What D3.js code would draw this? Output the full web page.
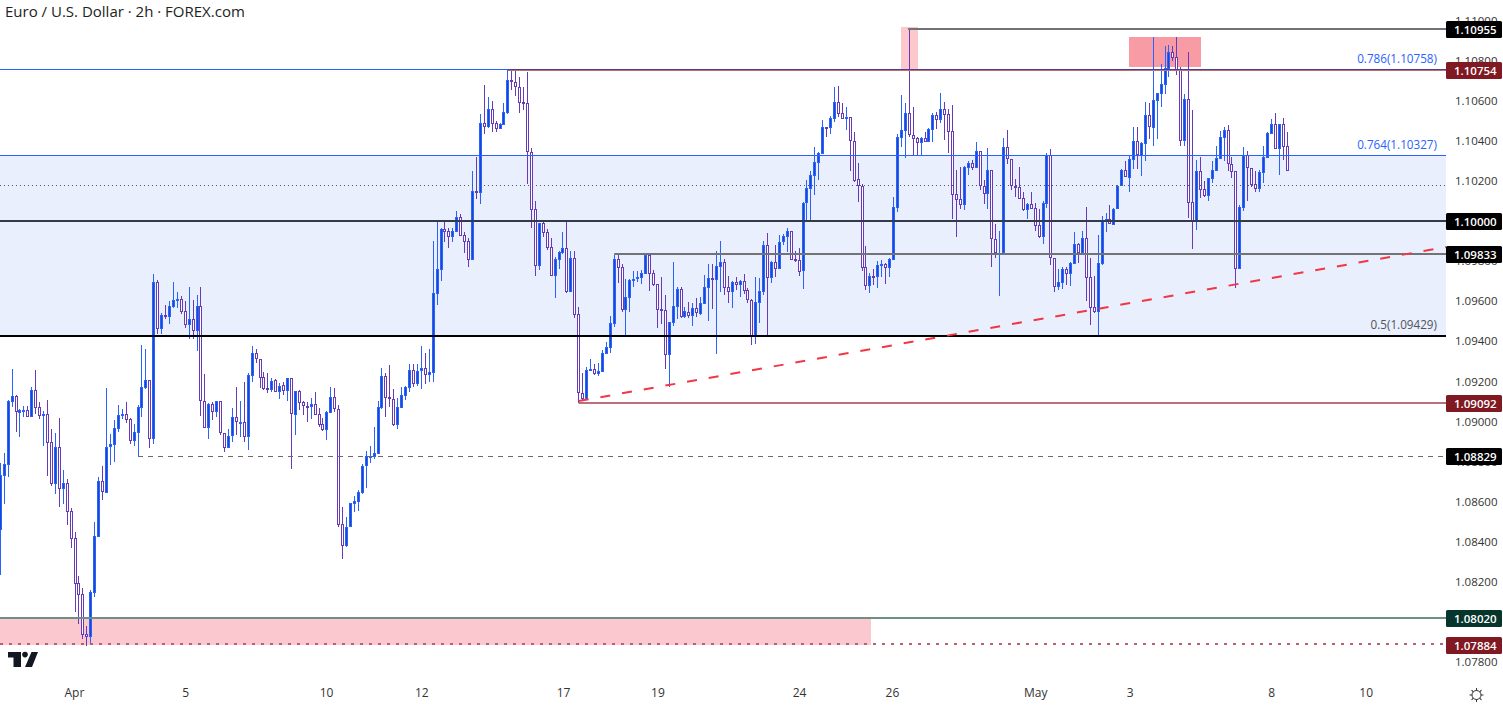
<!DOCTYPE html>
<html>
<head>
<meta charset="utf-8">
<title>EUR/USD</title>
<script src="https://cdn.jsdelivr.net/npm/d3@7"></script>
<style>
  html, body { margin: 0; padding: 0; background: #fff; overflow: hidden; }
  text { font-family: "Open Sans", "Noto Sans", sans-serif; }
</style>
</head>
<body>
<div id="chart"></div>
<script>
const opens = [
  1.08459,1.08728,1.08783,1.09097,1.09127,1.09042,1.09052,1.09057,
  1.09022,1.09157,1.09072,1.09027,1.09037,1.08898,1.08688,1.08873,
  1.08663,1.08693,1.08554,1.08419,1.08195,1.08140,1.07940,1.07925,
  1.08145,1.08424,1.08703,1.08643,1.08873,1.08883,1.08963,1.09027,
  1.09037,1.09012,1.08903,1.08943,1.09067,1.09167,1.09207,1.08913,
  1.09696,1.09461,1.09531,1.09521,1.09571,1.09601,1.09611,1.09551,
  1.09481,1.09511,1.09451,1.09576,1.09102,1.08968,1.09087,1.09047,
  1.09102,1.08943,1.08868,1.08928,1.09022,1.08993,1.08998,1.08923,
  1.09227,1.09342,1.09312,1.09222,1.09165,1.09157,1.09207,1.09147,
  1.09182,1.09152,1.09217,1.09032,1.09152,1.09097,1.09077,1.09072,
  1.09087,1.09037,1.08988,1.08958,1.09042,1.09122,1.09062,1.08489,
  1.08379,1.08474,1.08589,1.08599,1.08643,1.08778,1.08826,1.08823,
  1.08838,1.09067,1.09227,1.09122,1.09112,1.08983,1.09067,1.09127,
  1.09167,1.09257,1.09187,1.09252,1.09267,1.09232,1.09242,1.09636,
  1.09756,1.09960,1.09950,1.09920,1.09945,1.10020,1.09930,1.09900,
  1.09805,1.10150,1.10140,1.10489,1.10469,1.10559,1.10489,1.10459,
  1.10479,1.10539,1.10703,1.10693,1.10668,1.10593,1.10589,1.10344,
  1.10060,1.09776,1.09990,1.09945,1.09870,1.09726,1.09805,1.09840,
  1.09865,1.09646,1.09815,1.09536,1.09142,1.09112,1.09252,1.09262,
  1.09237,1.09247,1.09337,1.09367,1.09486,1.09810,1.09771,1.09556,
  1.09616,1.09706,1.09711,1.09716,1.09736,1.09830,1.09741,1.09686,
  1.09561,1.09556,1.09332,1.09491,1.09571,1.09661,1.09521,1.09546,
  1.09526,1.09566,1.09536,1.09586,1.09666,1.09716,1.09706,1.09771,
  1.09796,1.09671,1.09646,1.09696,1.09681,1.09701,1.09656,1.09606,
  1.09421,1.09591,1.09646,1.09880,1.09716,1.09796,1.09761,1.09895,
  1.09920,1.09950,1.09810,1.09806,1.09751,1.10090,1.10160,1.10224,
  1.10289,1.10334,1.10469,1.10464,1.10509,1.10594,1.10539,1.10509,
  1.10519,1.10399,1.10209,1.10175,1.09771,1.09676,1.09726,1.09721,
  1.09776,1.09786,1.09766,1.09805,1.10065,1.10414,1.10449,1.10539,
  1.10429,1.10414,1.10389,1.10414,1.10394,1.10454,1.10529,1.10504,
  1.10559,1.10534,1.10449,1.10135,1.10110,1.10080,1.10264,1.10289,
  1.10264,1.10349,1.10175,1.10135,1.10254,1.09910,1.09838,1.09840,
  1.10369,1.10309,1.10175,1.10170,1.10115,1.10055,1.10085,1.10065,
  1.09980,1.09920,1.10085,1.10329,1.09815,1.09671,1.09691,1.09761,
  1.09736,1.09786,1.09885,1.09840,1.09915,1.09721,1.09571,1.09546,
  1.09786,1.10000,1.10010,1.09980,1.10060,1.10175,1.10254,1.10214,
  1.10304,1.10399,1.10324,1.10384,1.10529,1.10464,1.10599,1.10633,
  1.10678,1.10758,1.10843,1.10818,1.10753,1.10399,1.10608,1.10095,
  1.10000,1.10249,1.10160,1.10125,1.10209,1.10249,1.10309,1.10414,
  1.10454,1.10284,1.10249,1.09761,1.10065,1.10329,1.10264,1.10185,
  1.10160,1.10239,1.10314,1.10434,1.10484,1.10359,1.10484,1.10374
];
const highs = [
  1.08793,1.08843,1.09107,1.09262,1.09132,1.09062,1.09077,1.09077,
  1.09172,1.09257,1.09097,1.09052,1.09107,1.08963,1.08943,1.09017,
  1.08758,1.08713,1.08569,1.08449,1.08229,1.08170,1.07980,1.08160,
  1.08499,1.08723,1.08778,1.09167,1.08938,1.09007,1.09082,1.09062,
  1.09097,1.09017,1.08988,1.09082,1.09382,1.09362,1.09207,1.09736,
  1.09706,1.09541,1.09581,1.09601,1.09696,1.09646,1.09626,1.09601,
  1.09671,1.09606,1.09631,1.09671,1.09237,1.09092,1.09097,1.09102,
  1.09102,1.08943,1.08963,1.09067,1.09172,1.09102,1.09197,1.09242,
  1.09377,1.09362,1.09312,1.09247,1.09242,1.09217,1.09212,1.09192,
  1.09197,1.09217,1.09217,1.09152,1.09157,1.09102,1.09097,1.09117,
  1.09147,1.09067,1.09017,1.09052,1.09172,1.09167,1.09082,1.08574,
  1.08524,1.08594,1.08628,1.08658,1.08788,1.08853,1.08878,1.08973,
  1.09102,1.09267,1.09242,1.09282,1.09162,1.09117,1.09172,1.09177,
  1.09287,1.09287,1.09287,1.09377,1.09342,1.09362,1.09900,1.10000,
  1.09965,1.10005,1.09965,1.09965,1.10050,1.10035,1.09945,1.09915,
  1.10249,1.10319,1.10534,1.10678,1.10618,1.10599,1.10499,1.10489,
  1.10589,1.10758,1.10753,1.10753,1.10718,1.10668,1.10743,1.10364,
  1.10100,1.09990,1.09995,1.09960,1.09915,1.09820,1.09850,1.09945,
  1.10000,1.09850,1.09850,1.09571,1.09242,1.09272,1.09312,1.09287,
  1.09292,1.09357,1.09397,1.09526,1.09830,1.09835,1.09786,1.09711,
  1.09711,1.09751,1.09751,1.09756,1.09835,1.09835,1.09756,1.09686,
  1.09721,1.09631,1.09496,1.09796,1.09671,1.09671,1.09571,1.09596,
  1.09591,1.09616,1.09621,1.09731,1.09786,1.09786,1.09850,1.09900,
  1.09810,1.09726,1.09701,1.09721,1.09706,1.09736,1.09666,1.09611,
  1.09721,1.09716,1.09900,1.09940,1.09801,1.09880,1.09930,1.09935,
  1.09965,1.09950,1.09850,1.09865,1.10095,1.10205,1.10249,1.10369,
  1.10344,1.10504,1.10469,1.10524,1.10668,1.10673,1.10589,1.10569,
  1.10519,1.10444,1.10289,1.10185,1.09875,1.09741,1.09761,1.09801,
  1.09806,1.09791,1.09815,1.10120,1.10434,1.10628,1.10589,1.10958,
  1.10569,1.10419,1.10419,1.10444,1.10464,1.10539,1.10544,1.10638,
  1.10594,1.10559,1.10579,1.10254,1.10269,1.10274,1.10299,1.10304,
  1.10394,1.10349,1.10205,1.10364,1.10254,1.09985,1.09950,1.10414,
  1.10454,1.10309,1.10209,1.10269,1.10145,1.10090,1.10145,1.10090,
  1.10060,1.10100,1.10339,1.10359,1.09815,1.09761,1.09771,1.09771,
  1.09796,1.09945,1.09890,1.09950,1.10070,1.09815,1.09726,1.09930,
  1.10025,1.10040,1.10080,1.10065,1.10180,1.10259,1.10299,1.10329,
  1.10469,1.10469,1.10394,1.10594,1.10589,1.10918,1.10638,1.10783,
  1.10873,1.10878,1.10873,1.10918,1.10768,1.10633,1.10843,1.10554,
  1.10304,1.10319,1.10200,1.10214,1.10299,1.10374,1.10449,1.10469,
  1.10479,1.10319,1.10249,1.10080,1.10369,1.10349,1.10264,1.10249,
  1.10254,1.10374,1.10444,1.10509,1.10539,1.10484,1.10514,1.10444
];
const lows = [
  1.08234,1.08589,1.08723,1.09072,1.08948,1.08923,1.09022,1.09022,
  1.09022,1.09037,1.09012,1.08878,1.08728,1.08678,1.08638,1.08574,
  1.08589,1.08484,1.08369,1.08050,1.07990,1.07915,1.07880,1.07895,
  1.08125,1.08424,1.08609,1.08643,1.08783,1.08798,1.08948,1.09012,
  1.08993,1.08888,1.08878,1.08828,1.09022,1.09162,1.08868,1.08888,
  1.09436,1.09436,1.09511,1.09486,1.09566,1.09566,1.09536,1.09466,
  1.09411,1.09411,1.09352,1.09027,1.08968,1.08913,1.09007,1.09022,
  1.08933,1.08848,1.08868,1.08898,1.08933,1.08923,1.08898,1.08858,
  1.09197,1.09292,1.09167,1.09157,1.09142,1.09147,1.09147,1.09112,
  1.09132,1.09102,1.08763,1.08933,1.09057,1.09032,1.08998,1.09012,
  1.09032,1.08973,1.08953,1.08908,1.09042,1.09047,1.08474,1.08314,
  1.08374,1.08474,1.08549,1.08554,1.08638,1.08668,1.08793,1.08813,
  1.08838,1.09062,1.09022,1.09072,1.08978,1.08963,1.09067,1.09107,
  1.09147,1.09172,1.09177,1.09162,1.09187,1.09197,1.09197,1.09581,
  1.09701,1.09895,1.09865,1.09895,1.09945,1.09925,1.09840,1.09771,
  1.09805,1.10110,1.10085,1.10434,1.10464,1.10444,1.10444,1.10459,
  1.10479,1.10534,1.10653,1.10623,1.10539,1.10554,1.10185,1.09965,
  1.09726,1.09756,1.09920,1.09855,1.09726,1.09616,1.09761,1.09835,
  1.09641,1.09646,1.09516,1.09092,1.09107,1.09112,1.09252,1.09232,
  1.09227,1.09247,1.09337,1.09342,1.09471,1.09691,1.09546,1.09431,
  1.09546,1.09671,1.09696,1.09686,1.09736,1.09651,1.09676,1.09466,
  1.09486,1.09262,1.09172,1.09476,1.09511,1.09516,1.09516,1.09516,
  1.09476,1.09521,1.09531,1.09586,1.09501,1.09561,1.09337,1.09646,
  1.09631,1.09591,1.09566,1.09656,1.09621,1.09636,1.09591,1.09382,
  1.09387,1.09491,1.09631,1.09431,1.09691,1.09721,1.09761,1.09880,
  1.09845,1.09805,1.09796,1.09726,1.09661,1.09995,1.09995,1.10130,
  1.10204,1.10334,1.10419,1.10434,1.10494,1.10519,1.10509,1.10454,
  1.10249,1.10195,1.10095,1.09751,1.09656,1.09641,1.09681,1.09666,
  1.09721,1.09686,1.09721,1.09805,1.10045,1.10369,1.10314,1.10419,
  1.10329,1.10329,1.10329,1.10394,1.10394,1.10394,1.10459,1.10489,
  1.10404,1.10339,1.10010,1.09920,1.10060,1.10055,1.10229,1.10254,
  1.10264,1.10155,1.10085,1.10060,1.09771,1.09815,1.09626,1.09840,
  1.10284,1.10155,1.10120,1.10110,1.10050,1.10010,1.10060,1.09950,
  1.09915,1.09885,1.10065,1.09780,1.09646,1.09656,1.09661,1.09681,
  1.09676,1.09786,1.09791,1.09830,1.09601,1.09481,1.09541,1.09421,
  1.09781,1.09945,1.09985,1.09980,1.10060,1.10175,1.10219,1.10145,
  1.10259,1.10259,1.10224,1.10299,1.10409,1.10374,1.10409,1.10569,
  1.10633,1.10718,1.10798,1.10728,1.10374,1.10374,1.10015,1.09860,
  1.09955,1.10115,1.10120,1.10100,1.10190,1.10249,1.10309,1.10299,
  1.10249,1.10214,1.09666,1.09761,1.10050,1.10100,1.10170,1.10145,
  1.10145,1.10190,1.10314,1.10434,1.10359,1.10229,1.10304,1.10249
];
const closes = [
  1.08733,1.08788,1.09102,1.09127,1.09047,1.09057,1.09057,1.09022,
  1.09157,1.09067,1.09027,1.09037,1.08893,1.08688,1.08873,1.08663,
  1.08693,1.08549,1.08414,1.08190,1.08135,1.07935,1.07925,1.08150,
  1.08429,1.08703,1.08648,1.08873,1.08888,1.08968,1.09032,1.09037,
  1.09007,1.08903,1.08948,1.09072,1.09172,1.09207,1.08913,1.09696,
  1.09461,1.09531,1.09521,1.09576,1.09606,1.09611,1.09546,1.09481,
  1.09511,1.09451,1.09576,1.09102,1.08968,1.09087,1.09047,1.09102,
  1.08943,1.08868,1.08928,1.09022,1.08998,1.08998,1.08923,1.09232,
  1.09342,1.09312,1.09217,1.09162,1.09160,1.09202,1.09147,1.09177,
  1.09152,1.09217,1.09037,1.09152,1.09092,1.09077,1.09075,1.09087,
  1.09032,1.08983,1.08958,1.09047,1.09122,1.09062,1.08484,1.08379,
  1.08474,1.08594,1.08604,1.08648,1.08778,1.08828,1.08828,1.08843,
  1.09072,1.09227,1.09117,1.09112,1.08983,1.09072,1.09132,1.09172,
  1.09257,1.09187,1.09252,1.09267,1.09232,1.09247,1.09641,1.09761,
  1.09960,1.09945,1.09920,1.09950,1.10020,1.09925,1.09895,1.09805,
  1.10150,1.10140,1.10489,1.10469,1.10559,1.10484,1.10459,1.10484,
  1.10544,1.10703,1.10693,1.10668,1.10589,1.10589,1.10344,1.10055,
  1.09776,1.09990,1.09940,1.09865,1.09726,1.09810,1.09845,1.09865,
  1.09646,1.09815,1.09531,1.09142,1.09112,1.09257,1.09262,1.09237,
  1.09252,1.09342,1.09372,1.09491,1.09810,1.09766,1.09556,1.09621,
  1.09706,1.09711,1.09721,1.09741,1.09830,1.09736,1.09681,1.09556,
  1.09551,1.09332,1.09496,1.09576,1.09661,1.09521,1.09551,1.09526,
  1.09566,1.09541,1.09591,1.09671,1.09716,1.09706,1.09776,1.09796,
  1.09666,1.09646,1.09696,1.09681,1.09701,1.09651,1.09606,1.09421,
  1.09596,1.09651,1.09880,1.09716,1.09796,1.09761,1.09895,1.09925,
  1.09950,1.09805,1.09801,1.09746,1.10090,1.10165,1.10229,1.10294,
  1.10339,1.10469,1.10464,1.10514,1.10594,1.10534,1.10509,1.10519,
  1.10399,1.10200,1.10175,1.09766,1.09676,1.09726,1.09721,1.09781,
  1.09786,1.09766,1.09810,1.10070,1.10419,1.10454,1.10539,1.10429,
  1.10409,1.10389,1.10414,1.10394,1.10459,1.10529,1.10504,1.10559,
  1.10529,1.10444,1.10130,1.10105,1.10080,1.10269,1.10289,1.10264,
  1.10349,1.10175,1.10135,1.10254,1.09910,1.09840,1.09842,1.10369,
  1.10309,1.10175,1.10170,1.10110,1.10055,1.10085,1.10060,1.09975,
  1.09920,1.10090,1.10329,1.09815,1.09671,1.09696,1.09761,1.09736,
  1.09791,1.09885,1.09840,1.09915,1.09716,1.09566,1.09546,1.09791,
  1.10000,1.10010,1.09985,1.10060,1.10175,1.10254,1.10219,1.10309,
  1.10399,1.10329,1.10389,1.10529,1.10469,1.10604,1.10638,1.10683,
  1.10763,1.10843,1.10813,1.10753,1.10399,1.10608,1.10090,1.10000,
  1.10249,1.10155,1.10125,1.10214,1.10254,1.10314,1.10419,1.10454,
  1.10284,1.10244,1.09761,1.10070,1.10329,1.10264,1.10180,1.10160,
  1.10244,1.10319,1.10439,1.10484,1.10359,1.10484,1.10369,1.10249
];

// y axis labels
const priceTicks = [1.11,1.108,1.106,1.104,1.102,1.1,1.098,1.096,1.094,1.092,1.09,1.088,1.086,1.084,1.082,1.08,1.078];
// x axis labels, positions are bar numbers
const dateTicks = [18.7,47,82.8,107,143,167,203,226.6,263,287,323,347];
const dateLabels = ['Apr','5','10','12','17','19','24','26','May','3','8','10'];

// horizontal levels with a tag on the price axis
const levelPrices = [1.10955,1.10754,1.1,1.09833,1.09092,1.08829,1.0802,1.07884];
const levelStarts = [230.7,129,-1,156,147,35,-1,-1];
const levelKinds = ['gray','red','navy','gray','rose','dash','green','dots'];

// fib levels
const fibPrices = [1.10758,1.10327,1.09429];
const fibRatios = ['0.786','0.764','0.5'];

const dottedLevel = 1.10178;

// rectangles: bars from/to, price from/to
const zoneFrom = [-1,228.9,286.8];
const zoneTo = [221.3,233.2,305.1];
const zoneHigh = [1.08020,1.10968,1.10916];
const zoneLow = [1.07884,1.10754,1.10768];

// trendline from/to
const trendBars = [147,367.4];
const trendPrices = [1.09102,1.09870];

const width = 1503,
      height = 707,
      plotRight = 1446;

const kinds = {
  gray:  { color: '#727377', w: 2 },
  red:   { color: '#b8707a', w: 2, tag: '#801922' },
  navy:  { color: '#343a4a', w: 2 },
  rose:  { color: '#b8707a', w: 2, tag: '#801922' },
  dash:  { color: '#6b6b6b', w: 1, dash: '5 5' },
  green: { color: '#6f8f85', w: 2, tag: '#06352b' },
  dots:  { color: '#b9616f', w: 2, dash: '3 6', tag: '#801922', dy: -1 }
};

const x = d3.scaleLinear().domain([0, 367.4]).range([0.3, plotRight]);
const y = d3.scaleLinear().domain([1.078, 1.11]).range([662, 20.5]);
const snap = v => Math.round(v - 0.1);

const chart = d3.select('#chart')
                .append('svg')
                .attr('width', width)
                .attr('height', height)
                .style('display', 'block');

// fib band
chart.append('rect')
     .attr('x', 0)
     .attr('y', snap(y(fibPrices[1])))
     .attr('width', plotRight)
     .attr('height', snap(y(fibPrices[2])) - snap(y(fibPrices[1])))
     .attr('fill', '#e9effc');

// zones
const zoneColors = ['#fcc8cf', '#fcc8cc', '#f99ba5'];
chart.append('g')
     .selectAll('rect')
     .data(zoneFrom)
     .join('rect')
     .attr('x', (d, i) => Math.max(0, snap(x(d))))
     .attr('y', (d, i) => snap(y(zoneHigh[i])))
     .attr('width', (d, i) => snap(x(zoneTo[i])) - Math.max(0, snap(x(d))))
     .attr('height', (d, i) => snap(y(zoneLow[i])) - snap(y(zoneHigh[i])))
     .attr('fill', (d, i) => zoneColors[i]);

// candles
const candles = chart.append('g')
                     .selectAll('g')
                     .data(opens)
                     .join('g')
                     .attr('class', 'candle');

candles.append('rect')
       .attr('x', (d, i) => Math.floor(x(i)))
       .attr('y', (d, i) => snap(y(highs[i])))
       .attr('width', 1)
       .attr('height', (d, i) => Math.max(1, snap(y(lows[i])) - snap(y(highs[i]))))
       .attr('fill', (d, i) => closes[i] >= d ? '#2962ff' : '#673ab7');

candles.append('rect')
       .attr('x', (d, i) => Math.floor(x(i)) - 0.5)
       .attr('y', (d, i) => snap(y(Math.max(d, closes[i]))) + 0.5)
       .attr('width', 2)
       .attr('height', (d, i) => Math.max(1, snap(y(Math.min(d, closes[i]))) - snap(y(Math.max(d, closes[i]))) - 1))
       .attr('fill', (d, i) => closes[i] >= d ? '#1848cc' : '#ffffff')
       .attr('stroke', (d, i) => closes[i] >= d ? '#2962ff' : '#673ab7')
       .attr('stroke-width', 1);

// dotted level
chart.append('line')
     .attr('x1', 0)
     .attr('x2', plotRight)
     .attr('y1', snap(y(dottedLevel)) + 0.5)
     .attr('y2', snap(y(dottedLevel)) + 0.5)
     .attr('stroke', '#555')
     .attr('stroke-dasharray', '1 3');

// levels
const levelY = (d, i) => {
  const k = kinds[levelKinds[i]];
  return snap(y(d)) + (k.w % 2 ? 0.5 : 0) + (k.dy || 0);
};

chart.append('g')
     .selectAll('line')
     .data(levelPrices)
     .join('line')
     .attr('x1', (d, i) => Math.max(0, x(levelStarts[i])))
     .attr('x2', plotRight)
     .attr('y1', levelY)
     .attr('y2', levelY)
     .attr('stroke', (d, i) => kinds[levelKinds[i]].color)
     .attr('stroke-width', (d, i) => kinds[levelKinds[i]].w)
     .attr('stroke-dasharray', (d, i) => kinds[levelKinds[i]].dash || null);

// fib lines
const fibColors = ['#4a3f8f', '#2962ff', '#000000'];
const fibY = (d, i) => i === 2 ? Math.ceil(y(d)) : snap(y(d)) + 0.5;

chart.append('g')
     .selectAll('line')
     .data(fibPrices)
     .join('line')
     .attr('x1', 0)
     .attr('x2', plotRight)
     .attr('y1', fibY)
     .attr('y2', fibY)
     .attr('stroke', (d, i) => fibColors[i])
     .attr('stroke-width', (d, i) => i === 2 ? 2 : 1);

// blue part of the top fib line
chart.append('line')
     .attr('x1', 0)
     .attr('x2', x(129))
     .attr('y1', fibY(fibPrices[0], 0))
     .attr('y2', fibY(fibPrices[0], 0))
     .attr('stroke', '#2962ff');

chart.append('g')
     .selectAll('text')
     .data(fibPrices)
     .join('text')
     .attr('x', 1437)
     .attr('y', d => snap(y(d)) - 6)
     .attr('text-anchor', 'end')
     .attr('font-size', 11.7)
     .attr('fill', (d, i) => i === 2 ? '#50535e' : '#2962ff')
     .text((d, i) => fibRatios[i] + '(' + d3.format('.5f')(d) + ')');

// trendline
chart.append('line')
     .attr('x1', x(trendBars[0]))
     .attr('y1', y(trendPrices[0]))
     .attr('x2', x(trendBars[1]))
     .attr('y2', y(trendPrices[1]))
     .attr('stroke', '#f23645')
     .attr('stroke-width', 2)
     .attr('stroke-dasharray', '10 12');

// axes
const yAxis = d3.axisRight(y)
                .tickValues(priceTicks)
                .tickSize(0)
                .tickPadding(9)
                .tickFormat(d3.format('.5f'));

const yAxisGroup = chart.append('g')
                        .call(yAxis)
                        .attr('transform', 'translate(' + plotRight + ', 0)');
yAxisGroup.select('.domain').remove();
yAxisGroup.selectAll('text')
          .attr('font-size', 11.5)
          .attr('font-family', '"Open Sans", "Noto Sans", sans-serif')
          .attr('fill', '#333');

const xAxis = d3.axisBottom(x)
                .tickValues(dateTicks)
                .tickSize(0)
                .tickPadding(0)
                .tickFormat((d, i) => dateLabels[i]);

const xAxisGroup = chart.append('g')
                        .call(xAxis)
                        .attr('transform', 'translate(0, 688)');
xAxisGroup.select('.domain').remove();
xAxisGroup.selectAll('text')
          .attr('font-size', 12)
          .attr('font-family', '"Open Sans", "Noto Sans", sans-serif')
          .attr('fill', '#333');

// price tags
const tags = chart.append('g')
                  .selectAll('g')
                  .data(levelPrices)
                  .join('g')
                  .attr('transform', d => 'translate(' + plotRight + ',' + (snap(y(d)) + 0.5) + ')');

tags.append('rect')
    .attr('x', 0)
    .attr('y', -8.5)
    .attr('width', 56)
    .attr('height', 17)
    .attr('rx', 1.5)
    .attr('fill', (d, i) => kinds[levelKinds[i]].tag || '#000');

tags.append('text')
    .attr('x', 8)
    .attr('y', 4.5)
    .attr('font-size', 11.5)
    .attr('font-weight', 600)
    .attr('fill', '#fff')
    .text(d => d3.format('.5f')(d));

// title
chart.append('text')
     .attr('x', 5)
     .attr('y', 17)
     .attr('font-size', 15)
     .attr('fill', '#222')
     .text('Euro / U.S. Dollar · 2h · FOREX.com');

// logo
const logo = chart.append('g').attr('fill', '#131722');
logo.append('path').attr('d', 'M8 652H21V667H13.5V657.5H8Z');
logo.append('circle').attr('cx', 25).attr('cy', 654.6).attr('r', 2.8);
logo.append('path').attr('d', 'M31.5 652H38L32 667H25Z');

// settings icon
const sun = chart.append('g')
                 .attr('transform', 'translate(1476.5, 695)')
                 .attr('stroke', '#333')
                 .attr('fill', 'none');
sun.append('circle').attr('r', 4.5);
sun.selectAll('line')
   .data(d3.range(8))
   .join('line')
   .attr('x1', 4.5)
   .attr('x2', 7)
   .attr('transform', d => 'rotate(' + d * 45 + ')');
</script>
</body>
</html>
